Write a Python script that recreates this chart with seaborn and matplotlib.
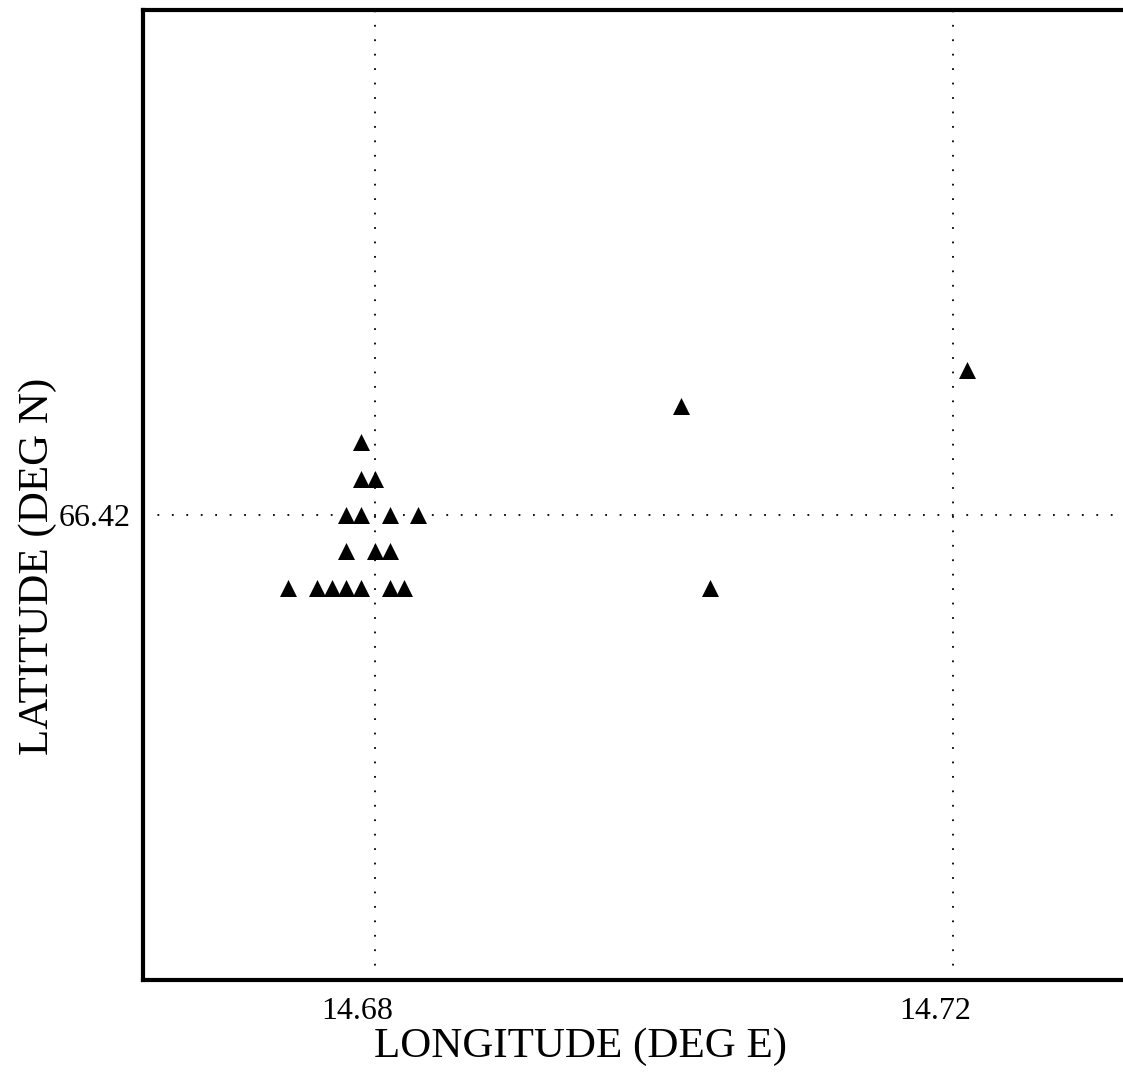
import numpy as np
import pandas as pd
import seaborn as sns
import matplotlib
matplotlib.use("Agg")
import matplotlib.pyplot as plt
import matplotlib.transforms as mtrans

# epicentre positions (deg E / deg N)
lon = [14.679,
       14.679, 14.680,
       14.678, 14.679, 14.681, 14.683,
       14.678, 14.680, 14.681,
       14.674, 14.676, 14.677, 14.678, 14.679, 14.681, 14.682,
       14.7012, 14.7032, 14.721]
lat = [66.422,
       66.421, 66.421,
       66.420, 66.420, 66.420, 66.420,
       66.419, 66.419, 66.419,
       66.418, 66.418, 66.418, 66.418, 66.418, 66.418, 66.418,
       66.423, 66.418, 66.424]

xticks = [14.68, 14.72]
xtick_labels = ["14.68", "14.72"]
yticks = [66.42]
ytick_labels = ["66.42"]

df = pd.DataFrame({"lon": lon, "lat": lat})

sns.set_style("white")
plt.rcParams["font.family"] = ["Liberation Serif", "DejaVu Serif"]
plt.rcParams["text.color"] = "black"
plt.rcParams["xtick.color"] = "black"
plt.rcParams["ytick.color"] = "black"

fig = plt.figure(figsize=(11.23, 10.79), dpi=100)
W, H = 1123, 1079
ax = fig.add_axes([143 / W, (H - 980) / H, (W - 143) / W, 970 / H])

sns.scatterplot(data=df, x="lon", y="lat", marker="^", s=150, color="black",
                linewidth=0, ax=ax, zorder=3)

ax.set_xlim(14.66394, 14.72 + 170 / 14450)
ax.set_ylim(66.42 - 465 / 36300, 66.42 + 505 / 36300)

ax.set_xticks(xticks)
ax.set_xticklabels(xtick_labels)
ax.set_yticks(yticks)
ax.set_yticklabels(ytick_labels)
ax.tick_params(axis="both", length=0, labelsize=23, labelcolor="black")
ax.tick_params(axis="x", pad=12)
ax.tick_params(axis="y", pad=9)

# x tick labels sit a little left of their grid lines in the original
shift = mtrans.ScaledTranslation(-18 / 100, 0, fig.dpi_scale_trans)
for lab in ax.get_xticklabels():
    lab.set_transform(lab.get_transform() + shift)

ax.grid(True, color="black", linestyle=(0, (1, 7)), linewidth=1.3)
ax.set_axisbelow(True)

for side in ["left", "bottom", "top"]:
    ax.spines[side].set_color("black")
    ax.spines[side].set_linewidth(3)
ax.spines["right"].set_visible(False)

ax.set_xlabel("")
ax.set_ylabel("")
fig.text(580 / W, 1 - 1047 / H, "LONGITUDE (DEG E)", fontsize=31,
         ha="center", va="center", color="black")
fig.text(38 / W, 1 - 566 / H, "LATITUDE (DEG N)", fontsize=31,
         ha="center", va="center", rotation=90, color="black")

fig.savefig("out.png", dpi=100)
